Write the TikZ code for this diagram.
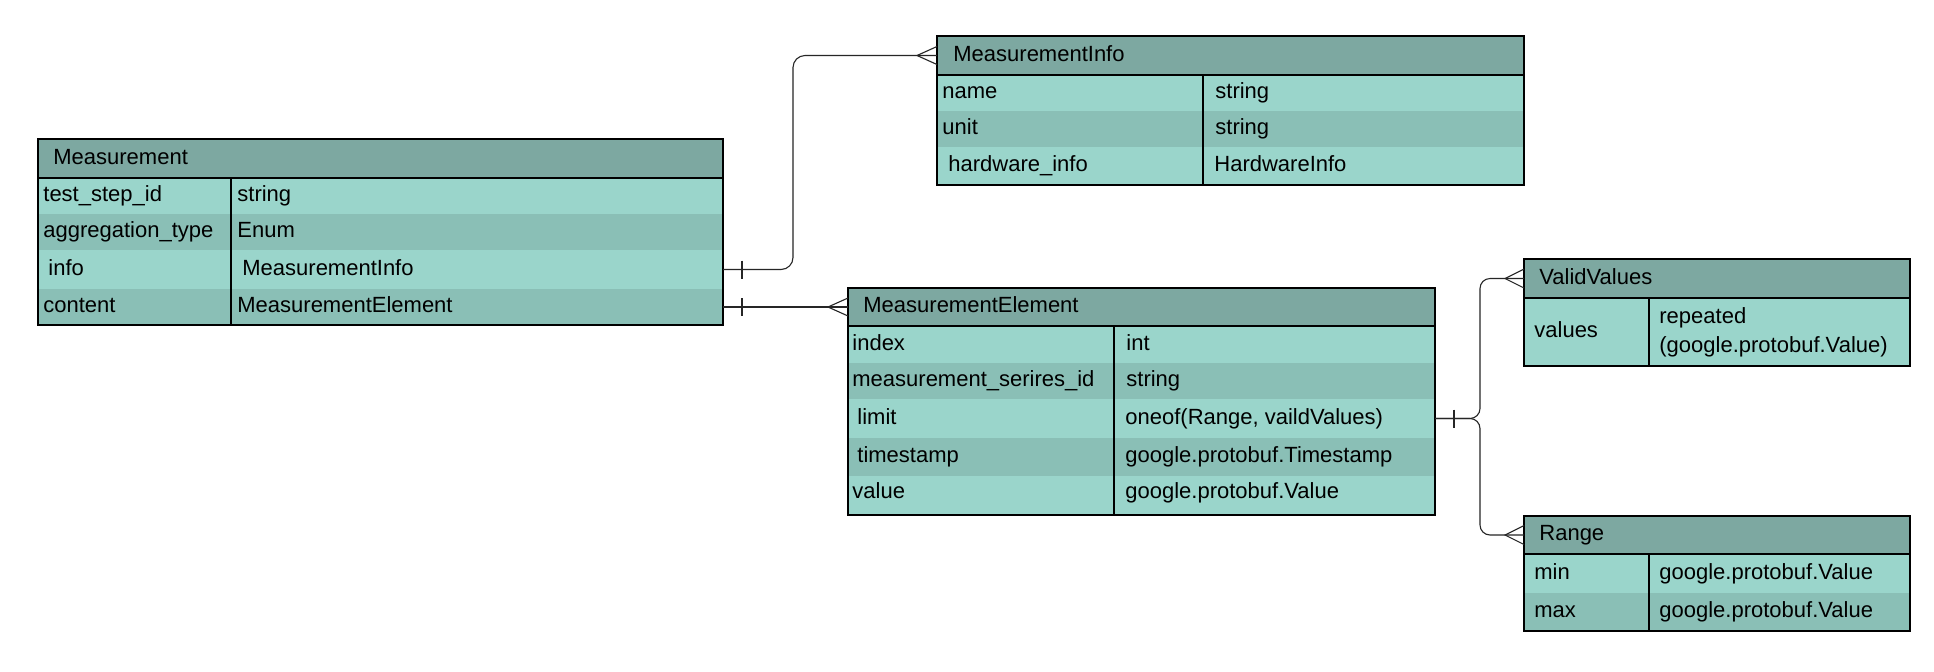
\documentclass[tikz,border=0pt]{standalone}
\usepackage{fontspec}
\setmainfont{Liberation Sans}
\usetikzlibrary{calc}
\definecolor{hdr}{HTML}{7DA8A1}
\definecolor{lite}{HTML}{9AD5CB}
\definecolor{dark}{HTML}{8ABFB6}
\newcommand\ERrow[6]{%
  \fill[#6] (#2,#3) rectangle (#4,#5);
  \coordinate (#1-w) at (#2,{(#3+#5)/2});
  \coordinate (#1-e) at (#4,{(#3+#5)/2});}
\tikzset{
  tbl/.style={draw=black, line width=0.6pt},
  txt/.style={anchor=base west, inner sep=0pt, yshift=1pt, font=\fontsize{11}{14.5}\selectfont},
  conn/.style={draw=black!85, line width=0.55pt},
}
\begin{document}
\begin{tikzpicture}[x=0.5pt,y=-0.5pt]
\useasboundingbox (0,0) rectangle (1934,671);
\fill[white] (0,0) rectangle (1934,671);

% ---------------- Measurement
\ERrow{m-hdr}{38}{139}{723}{178}{hdr}
\ERrow{m-r1}{38}{178}{723}{214}{lite}
\ERrow{m-r2}{38}{214}{723}{250}{dark}
\ERrow{m-r3}{38}{250}{723}{289}{lite}
\ERrow{m-r4}{38}{289}{723}{325}{dark}
\draw[tbl] (38,139) rectangle (723,325);
\draw[tbl] (38,178) -- (723,178);
\draw[tbl] (231,178) -- (231,325);
\node[txt] (m-t) at (53,166) {Measurement};
\node[txt] (m-k1) at (43,203.5) {test\_step\_id};
\node[txt] (m-v1) at (237,203.5) {string};
\node[txt] (m-k2) at (43,239.5) {aggregation\_type};
\node[txt] (m-v2) at (237,239.5) {Enum};
\node[txt] (m-k3) at (48,277) {info};
\node[txt] (m-v3) at (242,277) {MeasurementInfo};
\node[txt] (m-k4) at (43,314.5) {content};
\node[txt] (m-v4) at (237,314.5) {MeasurementElement};

% ---------------- MeasurementInfo
\ERrow{mi-hdr}{937}{36}{1524}{75}{hdr}
\ERrow{mi-r1}{937}{75}{1524}{111}{lite}
\ERrow{mi-r2}{937}{111}{1524}{147}{dark}
\ERrow{mi-r3}{937}{147}{1524}{185}{lite}
\draw[tbl] (937,36) rectangle (1524,185);
\draw[tbl] (937,75) -- (1524,75);
\draw[tbl] (1203,75) -- (1203,185);
\node[txt] (mi-t) at (953,63) {MeasurementInfo};
\node[txt] (mi-k1) at (942,100.5) {name};
\node[txt] (mi-v1) at (1215,100.5) {string};
\node[txt] (mi-k2) at (942,136.5) {unit};
\node[txt] (mi-v2) at (1215,136.5) {string};
\node[txt] (mi-k3) at (948,173.5) {hardware\_info};
\node[txt] (mi-v3) at (1214,173.5) {HardwareInfo};

% ---------------- MeasurementElement
\ERrow{me-hdr}{848}{288}{1435}{326}{hdr}
\ERrow{me-r1}{848}{326}{1435}{363}{lite}
\ERrow{me-r2}{848}{363}{1435}{399}{dark}
\ERrow{me-r3}{848}{399}{1435}{438}{lite}
\ERrow{me-r4}{848}{438}{1435}{476}{dark}
\ERrow{me-r5}{848}{476}{1435}{515}{lite}
\draw[tbl] (848,288) rectangle (1435,515);
\draw[tbl] (848,326) -- (1435,326);
\draw[tbl] (1114,326) -- (1114,515);
\node[txt] (me-t) at (863,314.5) {MeasurementElement};
\node[txt] (me-k1) at (852,352) {index};
\node[txt] (me-v1) at (1126,352) {int};
\node[txt] (me-k2) at (852,388.5) {measurement\_serires\_id};
\node[txt] (me-v2) at (1126,388.5) {string};
\node[txt] (me-k3) at (857,426) {limit};
\node[txt] (me-v3) at (1125,426) {oneof(Range, vaildValues)};
\node[txt] (me-k4) at (857,464.5) {timestamp};
\node[txt] (me-v4) at (1125,464.5) {google.protobuf.Timestamp};
\node[txt] (me-k5) at (852,500) {value};
\node[txt] (me-v5) at (1125,500) {google.protobuf.Value};

% ---------------- ValidValues
\ERrow{vv-hdr}{1524}{259}{1910}{298}{hdr}
\ERrow{vv-r1}{1524}{298}{1910}{366}{lite}
\draw[tbl] (1524,259) rectangle (1910,366);
\draw[tbl] (1524,298) -- (1910,298);
\draw[tbl] (1649,298) -- (1649,366);
\node[txt] (vv-t) at (1539,286) {ValidValues};
\node[txt] (vv-k1) at (1534,339.5) {values};
\node[txt, anchor=west, align=left, yshift=-1pt] (vv-v1) at (1659,332) {repeated\\(google.protobuf.Value)};

% ---------------- Range
\ERrow{rg-hdr}{1524}{516}{1910}{554}{hdr}
\ERrow{rg-r1}{1524}{554}{1910}{593}{lite}
\ERrow{rg-r2}{1524}{593}{1910}{631}{dark}
\draw[tbl] (1524,516) rectangle (1910,631);
\draw[tbl] (1524,554) -- (1910,554);
\draw[tbl] (1649,554) -- (1649,631);
\node[txt] (rg-t) at (1539,542.5) {Range};
\node[txt] (rg-k1) at (1534,581) {min};
\node[txt] (rg-v1) at (1659,581) {google.protobuf.Value};
\node[txt] (rg-k2) at (1534,619.5) {max};
\node[txt] (rg-v2) at (1659,619.5) {google.protobuf.Value};

% ---------------- connectors
\coordinate (c1) at (793,0);
\coordinate (c3) at (1480,0);

% Measurement.info -> MeasurementInfo
\draw[conn, rounded corners=6pt] (m-r3-e) -| (c1 |- mi-hdr-w) -- (mi-hdr-w);
\draw[conn] ($(m-r3-e)+(19,-9)$) -- ($(m-r3-e)+(19,9)$);
\draw[conn] ($(mi-hdr-w)+(0,-9)$) -- ($(mi-hdr-w)+(-20,0)$) -- ($(mi-hdr-w)+(0,9)$);

% Measurement.content -> MeasurementElement
\draw[conn] (m-r4-e) -- (me-hdr-w);
\draw[conn] ($(m-r4-e)+(19,-9)$) -- ($(m-r4-e)+(19,9)$);
\draw[conn] ($(me-hdr-w)+(0,-9)$) -- ($(me-hdr-w)+(-20,0)$) -- ($(me-hdr-w)+(0,9)$);

% MeasurementElement.limit -> ValidValues / Range
\draw[conn, rounded corners=5pt] (me-r3-e) -| (c3 |- vv-hdr-w) -- (vv-hdr-w);
\draw[conn, rounded corners=5pt] (me-r3-e) -| (c3 |- rg-hdr-w) -- (rg-hdr-w);
\draw[conn] ($(me-r3-e)+(19,-9)$) -- ($(me-r3-e)+(19,9)$);
\draw[conn] ($(vv-hdr-w)+(0,-9.5)$) -- ($(vv-hdr-w)+(-19,0)$) -- ($(vv-hdr-w)+(0,9.5)$);
\draw[conn] ($(rg-hdr-w)+(0,-9.5)$) -- ($(rg-hdr-w)+(-19,0)$) -- ($(rg-hdr-w)+(0,9.5)$);
\end{tikzpicture}
\end{document}
